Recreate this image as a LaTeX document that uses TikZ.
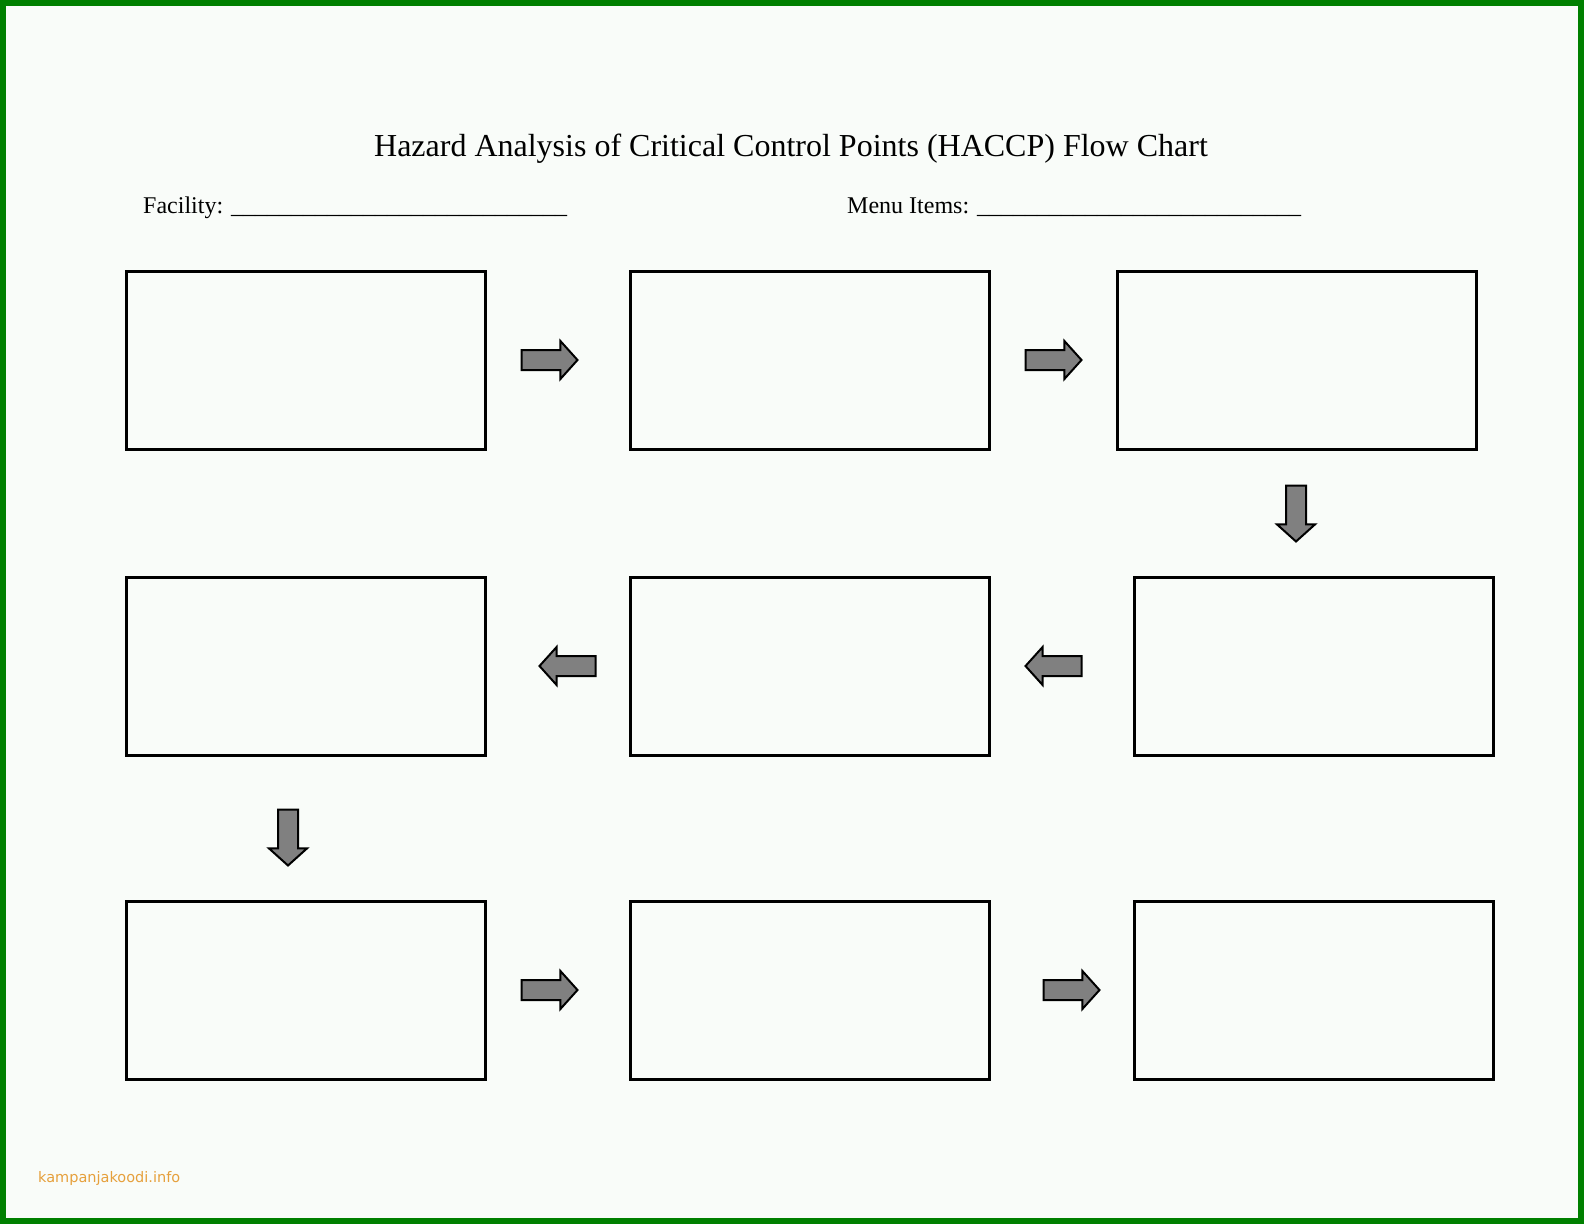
\documentclass[tikz,border=0pt]{standalone}
\usepackage{fontspec}
\setmainfont{Liberation Serif}
\newfontfamily\markfont{DejaVu Sans}
\usetikzlibrary{shapes.arrows}
\definecolor{pagebg}{RGB}{249,252,249}
\definecolor{framegreen}{RGB}{0,128,0}
\definecolor{markorange}{RGB}{230,160,60}
\definecolor{arrowgray}{RGB}{128,128,128}

\begin{document}
\begin{tikzpicture}[
  x=1pt, y=-1pt,
  stepbox/.style={draw=black, line width=3pt, minimum width=359pt, minimum height=178pt,
                  inner sep=0pt, anchor=north west},
  flow/.style={single arrow, draw=black, fill=arrowgray, line width=2pt, inner xsep=0pt,
               inner ysep=9pt, minimum height=56pt, single arrow head extend=9pt,
               single arrow tip angle=96}
]
\useasboundingbox (0,0) rectangle (1584,1224);
\fill[pagebg] (0,0) rectangle (1584,1224);
\draw[framegreen, line width=6pt] (3,3) rectangle (1581,1221);

% heading
\node[anchor=base, inner sep=0pt, font=\fontsize{32}{36}\selectfont] (title) at (791,156)
  {Hazard Analysis of Critical Control Points (HACCP) Flow Chart};
\node[anchor=base west, inner sep=0pt, font=\fontsize{24}{28}\selectfont] (facility) at (143,213)
  {Facility: \_\_\_\_\_\_\_\_\_\_\_\_\_\_\_\_\_\_\_\_\_\_\_\_\_\_\_\_};
\node[anchor=base west, inner sep=0pt, font=\fontsize{24}{28}\selectfont] (menu) at (847,213)
  {Menu Items: \_\_\_\_\_\_\_\_\_\_\_\_\_\_\_\_\_\_\_\_\_\_\_\_\_\_\_};

% boxes
\node[stepbox] (s1) at (125,270) {};
\node[stepbox] (s2) at (629,270) {};
\node[stepbox] (s3) at (1116,270) {};
\node[stepbox] (s4) at (1133,576) {};
\node[stepbox] (s5) at (629,576) {};
\node[stepbox] (s6) at (125,576) {};
\node[stepbox] (s7) at (125,900) {};
\node[stepbox] (s8) at (629,900) {};
\node[stepbox] (s9) at (1133,900) {};

% arrows
\node[flow] (a12) at (545,360) {};
\node[flow] (a23) at (1049,360) {};
\node[flow, rotate=-90] (a34) at (1296,509) {};
\node[flow, rotate=180] (a45) at (1058,666) {};
\node[flow, rotate=180] (a56) at (572,666) {};
\node[flow, rotate=-90] (a67) at (288,833) {};
\node[flow] (a78) at (545,990) {};
\node[flow] (a89) at (1067,990) {};

\node[anchor=base west, inner sep=0pt, text=markorange, font=\markfont\fontsize{14.5}{17}\selectfont]
  (mark) at (38,1182) {kampanjakoodi.info};
\end{tikzpicture}
\end{document}
